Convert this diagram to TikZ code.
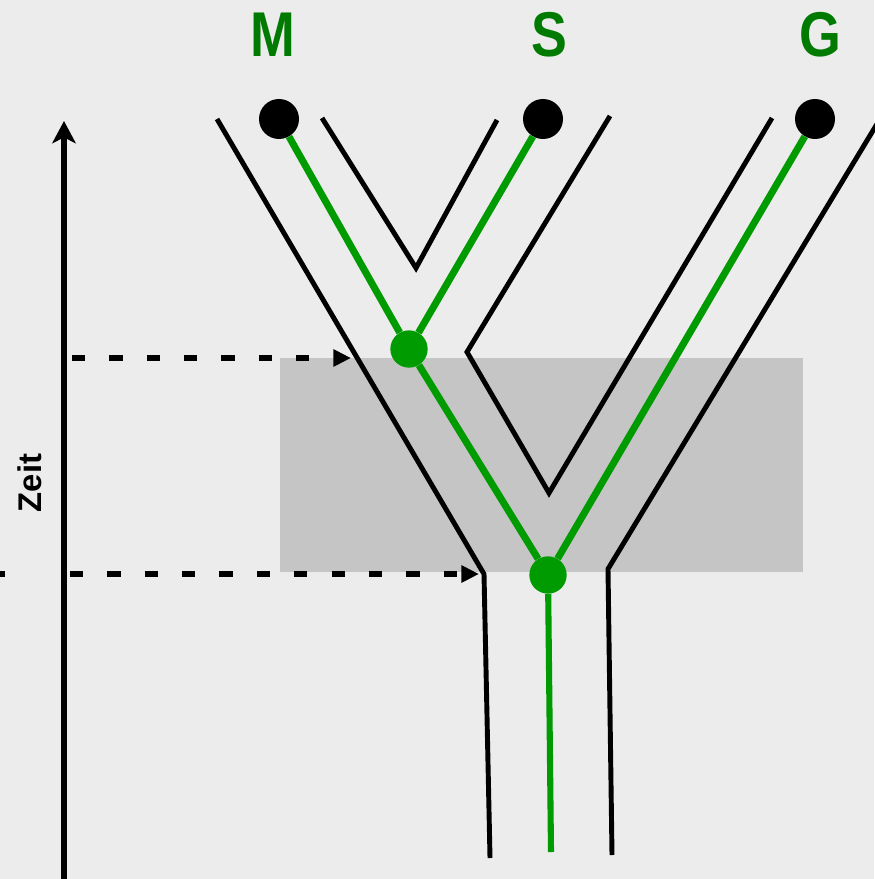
\documentclass[tikz,border=0pt]{standalone}
\usepackage{fontspec}
\setmainfont{Liberation Sans}
\usepackage{graphicx}
\usepackage{tikz}
\usetikzlibrary{arrows.meta}
\definecolor{cBack}{RGB}{236, 236, 236}
\definecolor{cBand}{RGB}{197, 197, 197}
\definecolor{cGene}{RGB}{0, 155, 0}
\definecolor{cLabel}{RGB}{0, 122, 0}
\tikzset{
    % --- 点样式 (dots) ---
    leafDot/.style={
        circle, fill=black, minimum size=1.2cm, inner sep=0pt
    },
    splitDot/.style={
        circle, fill=cGene, minimum size=1.12cm, inner sep=0pt
    },
    % --- 文字样式 (labels) ---
    taxonLabel/.style={
        font=\fontsize{54}{54}\selectfont\bfseries, text=cLabel, inner sep=0pt
    },
    axisLabel/.style={
        font=\fontsize{28}{28}\selectfont\bfseries, rotate=90, inner sep=0pt
    },
    % --- 连线样式 ---
    speciesLine/.style={
        draw=black, line width=4.2pt, line join=miter
    },
    geneLine/.style={
        draw=cGene, line width=6pt
    },
    timeAxis/.style={
        draw=black, line width=5pt,
        -{Stealth[length=19pt, width=20pt, inset=5pt]}
    },
    timeMark/.style={
        draw=black, line width=4.5pt, dash pattern=on 11.3pt off 20.6pt,
        -{Triangle[length=15pt, width=14pt]}
    },
    bandBox/.style={
        fill=cBand, draw=none
    }
}

\begin{document}
\begin{tikzpicture}[x=0.03cm, y=-0.03cm]

	% =========================================================
	% 1. 背景 (Background)
	% =========================================================
	\fill[cBack] (0,0) rectangle (874,879);
	\useasboundingbox (0,0) rectangle (874,879);
	\fill[bandBox] (280,358) rectangle (803,572);

	% =========================================================
	% 2. 物种轮廓 (Species outline)
	% =========================================================
	\coordinate (mOutTop) at (217,119);
	\coordinate (mOutBend) at (484,574);
	\coordinate (mOutFoot) at (490,858);
	\coordinate (mInTop) at (322,118);
	\coordinate (mInTip) at (416,268);
	\coordinate (sInTop) at (497,120);
	\coordinate (sOutTop) at (610,116);
	\coordinate (sOutBend) at (467,352);
	\coordinate (sgTip) at (549,493);
	\coordinate (gInTop) at (772,118);
	\coordinate (gOutTop) at (880,119);
	\coordinate (gOutBend) at (608,569);
	\coordinate (gOutFoot) at (612,855);

	\draw [speciesLine] (mOutTop) -- (mOutBend) -- (mOutFoot);
	\draw [speciesLine] (mInTop) -- (mInTip) -- (sInTop);
	\draw [speciesLine] (sOutTop) -- (sOutBend) -- (sgTip) -- (gInTop);
	\draw [speciesLine] (gOutTop) -- (gOutBend) -- (gOutFoot);

	% =========================================================
	% 3. 基因树 (Gene tree)
	% =========================================================
	\node [leafDot] (mDot) at (279,119) {};
	\node [leafDot] (sDot) at (543,119) {};
	\node [leafDot] (gDot) at (815,119) {};
	\node [splitDot] (jUpper) at (409,349) {};
	\node [splitDot] (jLower) at (548,575) {};
	\coordinate (rootEnd) at (551,852);

	\draw [geneLine] (mDot) -- (jUpper);
	\draw [geneLine] (sDot) -- (jUpper);
	\draw [geneLine] (jUpper) -- (jLower);
	\draw [geneLine] (gDot) -- (jLower);
	\draw [geneLine, line width=5.2pt] (jLower) -- (rootEnd);

	% --- Labels ---
	\node [taxonLabel] (mLab) at (273,35) {\scalebox{0.85}[1]{M}};
	\node [taxonLabel] (sLab) at (549,35) {\scalebox{0.85}[1]{S}};
	\node [taxonLabel] (gLab) at (820,35) {\scalebox{0.85}[1]{G}};

	% =========================================================
	% 4. 时间轴 (Time axis)
	% =========================================================
	\coordinate (axisFoot) at (64,885);
	\coordinate (axisHead) at (64,121);
	\draw [timeAxis] (axisFoot) -- (axisHead);
	\node [axisLabel] (zeit) at (30,483) {Zeit};

	\coordinate (markTopA) at (72,358);
	\coordinate (markTopB) at (351,358);
	\coordinate (markLowA) at (70,574);
	\coordinate (markLowB) at (479,574);
	\coordinate (stubA) at (-2,574);
	\coordinate (stubB) at (5,574);

	\draw [timeMark] (markTopA) -- (markTopB);
	\draw [timeMark] (markLowA) -- (markLowB);
	\draw [black, line width=4.5pt] (stubA) -- (stubB);

\end{tikzpicture}
\end{document}
